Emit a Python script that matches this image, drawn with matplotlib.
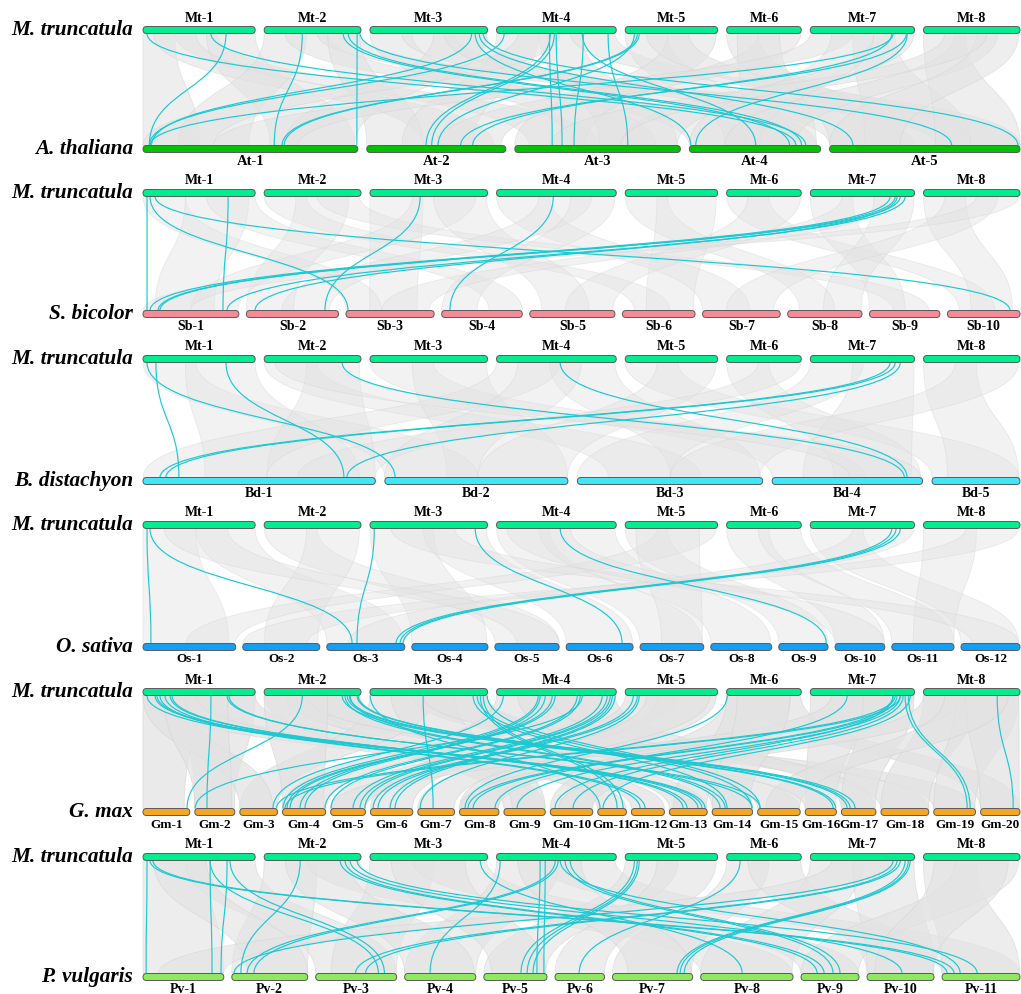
import matplotlib
matplotlib.use('Agg')
import matplotlib.pyplot as plt
from matplotlib.path import Path
from matplotlib.patches import PathPatch, FancyBboxPatch

# ---------------- data ----------------
mt_lengths = [52.99, 45.73, 55.52, 56.55, 43.63, 35.28, 49.24, 45.57]
at_lengths = [30.43, 19.70, 23.46, 18.59, 26.98]
sb_lengths = [80.88, 77.74, 74.39, 68.03, 71.85, 61.28, 65.51, 62.69, 59.42, 61.23]
bd_lengths = [75.07, 59.13, 59.84, 48.59, 28.42]
os_lengths = [43.27, 35.94, 36.41, 35.50, 29.96, 31.25, 29.70, 28.44, 23.01, 23.21, 29.02, 27.53]
gm_lengths = [56.83, 48.58, 45.78, 52.39, 42.23, 51.42, 44.63, 47.84, 50.19, 51.57,
              34.77, 40.11, 45.87, 49.04, 51.76, 37.89, 41.94, 58.02, 50.75, 47.90]
pv_lengths = [52.18, 49.03, 52.28, 45.96, 40.82, 31.98, 51.76, 59.66, 37.47, 43.28, 50.35]

species = ['A. thaliana', 'S. bicolor', 'B. distachyon', 'O. sativa', 'G. max', 'P. vulgaris']
prefixes = ['At', 'Sb', 'Bd', 'Os', 'Gm', 'Pv']

# highlighted links: (Mt chr, Mt Mb, other chr, other Mb)
at_links = [(1,1.9,4,15.1),(1,32.1,4,16.5),(1,39.2,1,0.9),(2,18.0,1,18.6),(2,37.3,4,14.2),
            (2,39.7,4,15.9),(2,43.9,1,30.3),(2,45.3,5,17.3),(3,49.7,4,0.2),(3,51.6,5,3.3),
            (3,53.5,5,26.7),(4,3.6,1,0.9),(4,25.4,2,8.4),(4,27.3,2,9.2),(4,28.2,3,6.7),
            (4,40.5,4,9.4),(4,52.7,3,16.0),(5,4.3,2,10.1),(5,5.7,1,19.7),(5,6.6,1,20.0),
            (7,39.1,1,1.0),(7,45.3,2,13.3),(7,38.5,2,15.0),(7,45.8,4,0.9),(4,25.0,3,5.3),
            (4,41.0,3,8.4),(3,48.0,1,1.2)]
sb_links = [(1,1.9,1,3.4),(1,40.2,1,67.5),(1,3.3,3,1.7),(1,5.7,10,52.8),(4,26.8,4,7.0),
            (7,37.7,1,5.9),(7,40.1,1,12.7),(7,42.5,1,14.3),(7,44.8,1,70.9),(7,41.0,2,7.3),
            (3,23.7,2,66.3)]
bd_links = [(1,1.9,2,3.3),(1,6.1,1,11.6),(1,39.2,1,64.9),(2,36.8,4,42.7),(4,30.1,4,43.6),
            (7,37.7,1,5.5),(7,40.1,1,7.4),(7,42.5,1,65.9)]
os_links = [(1,1.9,1,3.7),(1,3.3,3,11.8),(3,49.7,6,26.1),(4,30.1,9,22.2),(7,38.5,3,32.3),
            (7,40.5,3,34.2),(7,42.5,3,35.6),(3,2.0,3,14.1)]
gm_links = [(1,1.9,13,34.8),(1,5.7,13,39.6),(1,6.6,13,43.3),(1,12.8,13,16.6),(1,13.7,13,21.5),
            (1,32.1,2,14.8),(1,39.7,15,3.0),(1,40.6,14,48.5),(2,18.0,1,53.4),(2,36.8,16,33.9),
            (2,39.2,16,37.0),(2,40.2,17,6.9),(2,43.9,17,10.6),(2,44.4,17,16.6),(3,0.1,11,2.8),
            (3,25.1,7,18.6),(3,48.7,14,18.1),(3,50.6,14,48.0),(3,52.1,11,23.5),(3,53.5,11,30.7),
            (3,55.4,15,3.0),(4,3.2,3,40.3),(4,19.7,4,0.6),(4,26.3,4,5.5),(4,27.7,4,9.1),
            (4,38.1,4,51.6),(4,39.5,5,0.5),(4,40.5,2,0.5),(4,49.9,5,27.2),(4,52.3,5,35.7),
            (4,53.7,5,41.5),(5,3.8,6,3.2),(5,5.7,6,9.2),(5,6.6,7,2.8),(6,0.3,8,6.7),
            (7,17.4,8,43.1),(7,39.1,8,10.3),(7,41.0,8,16.4),(7,42.5,9,15.9),(7,39.1,10,5.8),
            (7,43.9,10,27.7),(7,44.8,19,40.6),(7,46.3,19,44.2),(8,34.8,20,39.6),(7,47.2,11,6.4),
            (1,8.0,12,10.6),(1,10.4,12,16.6),(2,38.2,14,9.6),(2,40.6,14,15.7),(4,20.6,4,21.2),
            (4,23.0,4,27.3),(4,54.7,6,23.8),(4,56.0,6,29.9),(7,40.1,3,44.5),(7,42.5,4,3.0)]
pv_links = [(1,1.9,1,2.0),(1,3.3,11,3.3),(1,4.7,11,7.8),(1,31.7,1,44.6),(1,39.7,1,50.4),
            (2,17.0,2,5.9),(2,35.9,9,10.4),(2,38.2,9,14.9),(2,40.6,10,22.6),(2,43.9,11,22.7),
            (4,20.6,5,34.3),(4,23.0,5,38.8),(4,30.1,11,11.7),(4,32.4,9,20.7),(4,34.8,9,25.2),
            (4,27.7,2,9.9),(4,29.1,2,14.3),(5,4.3,5,24.0),(5,5.7,5,28.0),(5,6.6,5,31.8),
            (7,39.1,2,1.4),(7,41.0,3,25.7),(7,42.5,3,32.2),(7,44.8,7,41.7),(7,46.3,7,43.7),
            (7,47.2,7,46.3),(6,6.4,6,15.6),(3,52.1,8,26.8),(1,31.7,3,40.5),(1,41.1,3,44.4),
            (4,1.7,4,16.4)]

# background collinear blocks: (Mt chr, start, end, other chr, start, end) in Mb
at_blocks = [(1,0,15,1,0,8),(1,15,35,3,2,12),(1,30,53,1,18,30),(1,5,25,2,8,18),
             (2,0,20,1,5,15),(2,10,30,4,0,10),(2,25,45,5,15,27),(2,30,45,2,0,8),
             (3,0,20,3,8,20),(3,15,40,5,0,12),(3,30,55,1,20,30),(3,35,55,4,10,18),
             (4,0,20,2,5,15),(4,20,40,3,12,23),(4,35,56,5,20,27),(4,10,30,1,0,10),
             (5,0,20,4,5,15),(5,20,43,3,0,10),(5,10,30,5,10,20),
             (6,0,15,5,0,10),(6,15,35,2,10,19),(6,5,25,4,8,18),
             (7,0,20,1,10,22),(7,20,40,5,5,20),(7,30,49,3,15,23),(7,10,30,4,0,10),
             (8,0,20,5,15,27),(8,15,35,4,5,15),(8,25,45,5,0,10),(8,10,30,3,5,15)]
sb_blocks = [(1,0,20,3,0,30),(1,20,50,1,10,60),(1,30,53,4,40,68),(2,0,20,6,10,40),
             (2,15,40,2,0,40),(2,25,45,9,20,50),(3,0,25,3,20,60),(3,20,50,1,40,80),
             (3,30,55,5,10,50),(4,0,25,7,0,40),(4,20,45,2,30,70),(4,35,56,4,0,30),
             (5,0,20,8,10,40),(5,15,43,6,20,60),(6,0,20,10,10,40),(6,10,35,5,30,70),
             (7,0,20,9,0,30),(7,15,40,3,30,70),(7,30,49,8,30,62),(8,0,20,10,20,55),
             (8,10,35,7,20,60),(8,25,45,1,0,40)]
bd_blocks = [(1,0,25,2,0,30),(1,20,53,1,20,70),(2,0,25,3,10,40),(2,20,45,1,40,75),
             (3,0,30,4,0,30),(3,20,55,2,20,59),(4,0,30,1,0,40),(4,25,56,3,30,59),
             (5,0,25,5,0,28),(5,15,43,2,30,59),(6,0,20,4,20,48),(6,15,35,1,50,75),
             (7,0,25,3,0,30),(7,20,49,4,10,45),(8,0,25,5,5,28),(8,15,45,3,30,59),
             (4,10,40,2,0,30),(2,5,35,4,25,48)]
os_blocks = [(1,0,25,1,0,40),(1,25,53,3,0,36),(2,0,25,5,0,30),(2,20,45,2,10,35),
             (3,0,30,4,0,35),(3,25,55,6,0,31),(4,0,25,7,0,29),(4,20,56,8,0,28),
             (5,0,20,9,0,23),(5,15,43,1,20,43),(6,0,20,10,0,23),(6,15,35,11,0,29),
             (7,0,25,12,0,27),(7,20,49,3,10,36),(8,0,25,11,10,29),(8,20,45,2,0,30),
             (3,10,40,12,5,27),(5,5,35,7,10,29),(1,10,40,5,10,30),(4,5,35,10,0,23)]
gm_blocks = [(1,0,25,1,0,50),(1,20,53,2,0,48),(1,0,30,11,0,34),(1,25,53,12,0,40),
             (2,0,25,9,0,50),(2,15,45,15,0,51),(2,10,40,13,0,45),
             (3,0,30,3,0,45),(3,20,55,18,0,58),(3,10,40,9,10,50),(3,25,55,19,0,50),
             (4,0,30,4,0,52),(4,20,56,6,0,51),(4,10,40,14,0,49),(4,25,56,17,0,41),
             (5,0,25,5,0,42),(5,15,43,8,0,47),(5,10,40,7,0,44),
             (6,0,20,10,0,51),(6,10,35,20,0,47),(6,0,30,13,5,45),
             (7,0,25,16,0,37),(7,20,49,8,0,47),(7,10,40,5,0,42),(7,25,49,17,0,41),
             (8,0,25,18,0,58),(8,15,45,19,0,50),(8,20,45,20,0,47),(8,0,20,10,10,51),
             (8,10,40,15,10,51),(2,20,45,16,0,37),(6,5,30,14,0,45),
             (1,0,20,3,0,40),(2,0,30,4,0,50),(1,10,40,2,0,45)]
pv_blocks = [(1,0,30,1,0,52),(1,20,53,3,0,52),(2,0,25,2,0,49),(2,20,45,8,0,59),
             (3,0,30,3,10,52),(3,20,55,9,0,37),(4,0,30,4,0,46),(4,20,56,11,0,50),
             (5,0,25,5,0,40),(5,15,43,6,0,32),(6,0,20,7,0,51),(6,10,35,10,0,43),
             (7,0,25,8,0,59),(7,20,49,10,0,43),(8,0,25,11,0,50),(8,15,45,9,0,37),
             (4,10,40,7,10,51),(2,10,40,4,0,45),(1,5,30,2,10,49),(3,10,45,5,5,40),
             (7,10,40,1,10,52),(8,5,40,10,5,43)]

# ---------------- style / layout ----------------
W, H = 1021, 994
X0, X1 = 143, 1020
MT_COLOR = '#00EE90'
row_colors = ['#00C200', '#F48B96', '#42E6F6', '#169FEE', '#F6A623', '#8FE95F']
row_gaps = [9, 7.5, 9.5, 7, 5, 8]
row_y = [(30, 149), (193, 314), (359, 481), (525, 647), (692, 812), (857, 977)]
label_sizes = [10.5, 10, 10, 9.5, 9.5, 10]
gray_alpha = [0.58, 0.45, 0.45, 0.45, 0.72, 0.62]
CYAN = '#1CC9D3'
GRAY = '#E3E3E3'
SERIF = ['Liberation Serif', 'DejaVu Serif']
BAR_H = 7

fig = plt.figure(figsize=(W / 100, H / 100), dpi=100)
ax = fig.add_axes([0, 0, 1, 1])
ax.set_xlim(0, W)
ax.set_ylim(H, 0)
ax.axis('off')


def layout(lengths, gap):
    scale = (X1 - X0 - gap * (len(lengths) - 1)) / sum(lengths)
    starts = []
    x = X0
    for L in lengths:
        starts.append(x)
        x += L * scale + gap
    return starts, scale


def xpos(lay, chrom, mb):
    starts, scale = lay
    return starts[chrom - 1] + mb * scale


def draw_row(lengths, gap, y, color, prefix, above, fs):
    starts, scale = layout(lengths, gap)
    for i, (s, L) in enumerate(zip(starts, lengths)):
        w = L * scale
        p = FancyBboxPatch((s + BAR_H / 2, y), w - BAR_H, 0,
                           boxstyle='round,pad=%g,rounding_size=%g' % (BAR_H / 2, BAR_H / 2),
                           fc=color, ec='#5a5a5a', lw=0.7, zorder=5)
        ax.add_patch(p)
        ty = y - 12 if above else y + 12.5
        ax.text(s + w / 2, ty, '%s-%d' % (prefix, i + 1), ha='center', va='center',
                family=SERIF, weight='bold', fontsize=fs, zorder=6)
    return starts, scale


for k in range(6):
    yt, yb = row_y[k]
    other_len = [at_lengths, sb_lengths, bd_lengths, os_lengths, gm_lengths, pv_lengths][k]
    links = [at_links, sb_links, bd_links, os_links, gm_links, pv_links][k]
    blocks = [at_blocks, sb_blocks, bd_blocks, os_blocks, gm_blocks, pv_blocks][k]
    top = layout(mt_lengths, 9)
    bot = layout(other_len, row_gaps[k])
    y1 = yt + BAR_H / 2
    y2 = yb - BAR_H / 2
    ym = (y1 + y2) / 2
    # background blocks
    for (mc, ms, me, oc, os_, oe) in blocks:
        a1, a2 = xpos(top, mc, ms), xpos(top, mc, me)
        b1, b2 = xpos(bot, oc, os_), xpos(bot, oc, oe)
        verts = [(a1, y1), (a1, ym), (b1, ym), (b1, y2), (b2, y2),
                 (b2, ym), (a2, ym), (a2, y1), (a1, y1)]
        codes = [Path.MOVETO, Path.CURVE4, Path.CURVE4, Path.CURVE4, Path.LINETO,
                 Path.CURVE4, Path.CURVE4, Path.CURVE4, Path.CLOSEPOLY]
        ax.add_patch(PathPatch(Path(verts, codes), fc=GRAY, ec='#D6D6D6', lw=0.6,
                               alpha=gray_alpha[k], zorder=1))
    # highlighted links
    for (mc, mp, oc, op) in links:
        a = xpos(top, mc, mp)
        b = xpos(bot, oc, op)
        verts = [(a, y1), (a, ym), (b, ym), (b, y2)]
        codes = [Path.MOVETO, Path.CURVE4, Path.CURVE4, Path.CURVE4]
        ax.add_patch(PathPatch(Path(verts, codes), fc='none', ec=CYAN, lw=0.85, zorder=3))
    draw_row(mt_lengths, 9, yt, MT_COLOR, 'Mt', True, 10)
    draw_row(other_len, row_gaps[k], yb, row_colors[k], prefixes[k], False, label_sizes[k])
    ax.text(133, yt + 5, 'M. truncatula', ha='right', va='baseline', family=SERIF,
            style='italic', weight='bold', fontsize=15.3, zorder=6)
    ax.text(133, yb + 5, species[k], ha='right', va='baseline', family=SERIF,
            style='italic', weight='bold', fontsize=15.3, zorder=6)

fig.savefig('out.png', dpi=100, facecolor='white')
